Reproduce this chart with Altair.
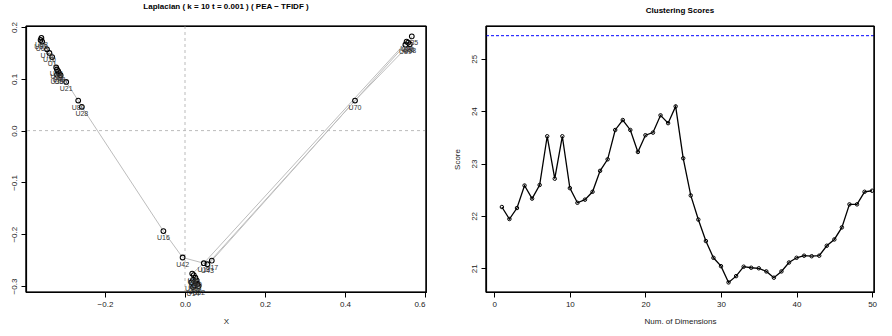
import altair as alt
import pandas as pd

FONT = "Liberation Sans"

names = ["U68", "U83", "U69", "U76", "U10", "U1", "U38", "U39", "U3", "U48", "U36", "U30",
         "U21", "U80", "U28", "U16", "U42", "U13", "U43", "U17",
         "U4", "U45", "U60", "U5", "U9", "U59", "U6", "U47", "U52", "U14",
         "U70", "U35", "U66", "U86", "U89", "U58"]
xs = [-0.359, -0.361, -0.357, -0.345, -0.339, -0.332, -0.322, -0.320, -0.317, -0.315, -0.320, -0.311,
      -0.297, -0.267, -0.258, -0.054, -0.006, 0.047, 0.056, 0.067,
      0.018, 0.022, 0.026, 0.020, 0.029, 0.016, 0.031, 0.024, 0.034, 0.020,
      0.425, 0.567, 0.554, 0.558, 0.551, 0.562]
ys = [0.179, 0.175, 0.172, 0.157, 0.150, 0.142, 0.122, 0.118, 0.115, 0.111, 0.108, 0.107,
      0.094, 0.058, 0.046, -0.194, -0.245, -0.256, -0.258, -0.251,
      -0.276, -0.279, -0.284, -0.288, -0.289, -0.293, -0.296, -0.299, -0.300, -0.302,
      0.058, 0.182, 0.172, 0.170, 0.166, 0.167]
edges = [("U68", "U76"), ("U76", "U10"), ("U10", "U1"), ("U1", "U38"), ("U38", "U3"),
         ("U3", "U30"), ("U30", "U21"), ("U21", "U80"), ("U80", "U28"), ("U28", "U16"),
         ("U16", "U42"), ("U42", "U13"), ("U13", "U43"), ("U43", "U17"), ("U4", "U13"),
         ("U13", "U66"), ("U43", "U89"), ("U17", "U70"), ("U70", "U58"), ("U58", "U35")]

dims = list(range(1, 51))
scores = [22.17, 21.94, 22.15, 22.58, 22.33, 22.59, 23.52, 22.71, 23.52, 22.53,
          22.25, 22.31, 22.46, 22.86, 23.08, 23.64, 23.83, 23.64, 23.22, 23.54,
          23.59, 23.92, 23.77, 24.09, 23.10, 22.39, 21.93, 21.52, 21.20, 21.04,
          20.73, 20.85, 21.03, 21.01, 21.00, 20.94, 20.82, 20.94, 21.11, 21.20,
          21.24, 21.23, 21.24, 21.43, 21.55, 21.78, 22.22, 22.22, 22.46, 22.48]
ref_score = [25.44]

left_xlim = [-0.3975, 0.6025]
left_ylim = [-0.3116, 0.202]
right_xlim = [-1.1, 50.25]
right_ylim = [20.547, 25.625]

pts = pd.DataFrame({"name": names, "x": xs, "y": ys})
pos = {n: (x, y) for n, x, y in zip(names, xs, ys)}
erows = []
for i, (a, b) in enumerate(edges):
    erows.append({"e": i, "o": 0, "x": pos[a][0], "y": pos[a][1]})
    erows.append({"e": i, "o": 1, "x": pos[b][0], "y": pos[b][1]})
edf = pd.DataFrame(erows)

LW, LH = 400, 266
RW, RH = 388, 266


def frame(xlim, ylim, xsc, ysc):
    # four border rules placed through the scales at the plot-area limits
    rows = [
        {"x0": xlim[0], "x1": xlim[1], "y0": ylim[0], "y1": ylim[0]},
        {"x0": xlim[0], "x1": xlim[1], "y0": ylim[1], "y1": ylim[1]},
        {"x0": xlim[0], "x1": xlim[0], "y0": ylim[0], "y1": ylim[1]},
        {"x0": xlim[1], "x1": xlim[1], "y0": ylim[0], "y1": ylim[1]},
    ]
    return alt.Chart(pd.DataFrame(rows)).mark_rule(color="black", strokeWidth=1.2).encode(
        x=alt.X("x0:Q", scale=xsc), x2="x1:Q", y=alt.Y("y0:Q", scale=ysc), y2="y1:Q")


xsc = alt.Scale(domain=left_xlim, nice=False, zero=False)
ysc = alt.Scale(domain=left_ylim, nice=False, zero=False)

xax = alt.Axis(values=[-0.2, 0.0, 0.2, 0.4, 0.6], format=".1f", title="X")
yax = alt.Axis(values=[-0.3, -0.2, -0.1, 0.0, 0.1, 0.2], format=".1f", title=None,
               labelAngle=-90, labelAlign="center", labelBaseline="bottom")

ebase = alt.Chart(edf).mark_line(color="#bdbdbd", strokeWidth=1).encode(
    x=alt.X("x:Q", scale=xsc, axis=xax),
    y=alt.Y("y:Q", scale=ysc, axis=yax),
    detail="e:N", order="o:Q")

zero_df = pd.DataFrame({"v": [0.0]})
vline = alt.Chart(zero_df).mark_rule(color="#bbbbbb", strokeDash=[3, 3], strokeWidth=1).encode(
    x=alt.X("v:Q", scale=xsc))
hline = alt.Chart(zero_df).mark_rule(color="#bbbbbb", strokeDash=[3, 3], strokeWidth=1).encode(
    y=alt.Y("v:Q", scale=ysc))

points = alt.Chart(pts).mark_point(shape="circle", filled=False, color="black",
                                   size=22, strokeWidth=1.1, opacity=1).encode(
    x=alt.X("x:Q", scale=xsc), y=alt.Y("y:Q", scale=ysc))
labels = alt.Chart(pts).mark_text(font=FONT, fontSize=7, fill="#333333", dy=7,
                                  baseline="middle").encode(
    x=alt.X("x:Q", scale=xsc), y=alt.Y("y:Q", scale=ysc), text="name:N")

left = alt.layer(vline, hline, ebase, points, labels,
                 frame(left_xlim, left_ylim, xsc, ysc)).properties(
    width=LW, height=LH,
    title=alt.TitleParams("Laplacian ( k = 10 t = 0.001 ) ( PEA \u2212 TFIDF )",
                          font=FONT, fontSize=8, fontWeight="bold", offset=10))

sdf = pd.DataFrame({"d": dims, "s": scores})
rxsc = alt.Scale(domain=right_xlim, nice=False, zero=False)
rysc = alt.Scale(domain=right_ylim, nice=False, zero=False)
rxax = alt.Axis(values=[0, 10, 20, 30, 40, 50], title="Num. of Dimensions")
ryax = alt.Axis(values=[21, 22, 23, 24, 25], title="Score", labelAngle=-90,
                labelAlign="center", labelBaseline="bottom", titlePadding=9)

rline = alt.Chart(sdf).mark_line(color="black", strokeWidth=1.3).encode(
    x=alt.X("d:Q", scale=rxsc, axis=rxax), y=alt.Y("s:Q", scale=rysc, axis=ryax))
rpts = alt.Chart(sdf).mark_point(shape="circle", filled=False, color="black",
                                 size=12, strokeWidth=1, opacity=1).encode(
    x=alt.X("d:Q", scale=rxsc), y=alt.Y("s:Q", scale=rysc))
rref = alt.Chart(pd.DataFrame({"r": ref_score})).mark_rule(
    color="#0000ff", strokeDash=[3, 2], strokeWidth=1).encode(y=alt.Y("r:Q", scale=rysc))

right = alt.layer(rline, rpts, rref, frame(right_xlim, right_ylim, rxsc, rysc)).properties(
    width=RW, height=RH,
    title=alt.TitleParams("Clustering Scores", font=FONT, fontSize=8,
                          fontWeight="bold", offset=10))

chart = alt.hconcat(left, right, spacing=60, bounds="flush").properties(
    padding={"left": 9, "top": 2, "right": 14, "bottom": 10}
).configure_view(stroke="black", strokeWidth=1.2).configure_axis(
    grid=False, domain=True, domainColor="black", domainWidth=1.2,
    ticks=True, tickColor="black", tickSize=5, tickWidth=1,
    labelFont=FONT, labelFontSize=8, labelColor="#222222", labelPadding=3,
    titleFont=FONT, titleFontSize=8, titleFontWeight="normal", titleColor="#222222",
    titlePadding=9
).configure_title(anchor="middle", color="black")

chart.save("out.html", embed_options={"renderer": "svg", "actions": False})
